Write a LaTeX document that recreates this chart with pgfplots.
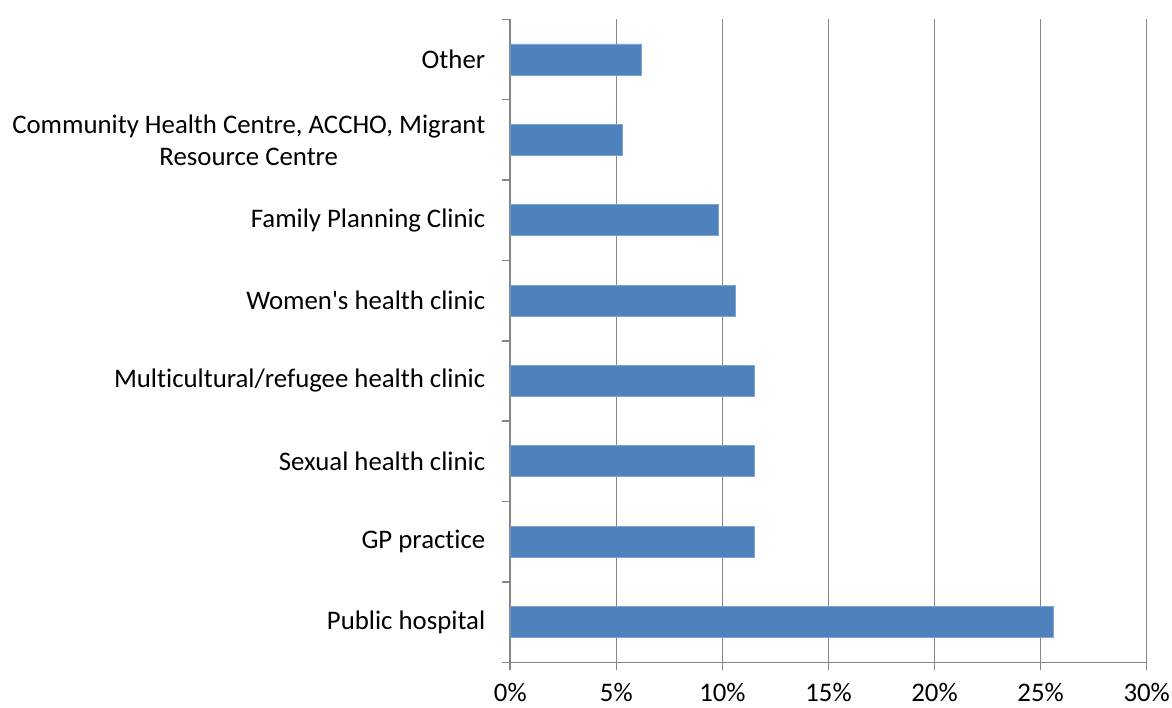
\documentclass[border=0pt]{standalone}
\usepackage{pgfplots}
\pgfplotsset{compat=1.18}
\usepackage{fontspec}
\setmainfont{Carlito}[Ligatures={NoCommon}]
\definecolor{barblue}{HTML}{4F81BD}
\definecolor{baredge}{HTML}{7FA3D3}
\definecolor{gridgray}{HTML}{868686}
\begin{document}
\begin{tikzpicture}
\begin{axis}[
  at={(0,0)}, anchor=south west,
  scale only axis,
  width=318.2pt, height=321.5pt,
  xmin=0, xmax=30,
  ymin=-0.5, ymax=7.5,
  axis lines*=left,
  axis line style={gridgray, line width=0.8pt, -},
  xtick={0,5,10,15,20,25,30},
  xticklabels={0\%,5\%,10\%,15\%,20\%,25\%,30\%},
  xmajorgrids,
  grid style={gridgray, line width=0.8pt},
  tick align=outside,
  major tick length=4pt,
  every tick/.style={gridgray, line width=0.8pt},
  ytick={-0.5,0.5,1.5,2.5,3.5,4.5,5.5,6.5,7.5},
  yticklabels={},
  extra y ticks={0,1,2,3,4,5,6,7},
  extra y tick labels={Public hospital, GP practice, Sexual health clinic, Multicultural/refugee health clinic, Women\textquotesingle s health clinic, Family Planning Clinic, {Community Health Centre, ACCHO, Migrant\\Resource Centre}, Other},
  extra y tick style={major tick length=0pt, yticklabel style={align=center, font=\fontsize{13.4}{16}\selectfont, xshift=-9pt}},
  xticklabel style={font=\fontsize{13.4}{16}\selectfont, yshift=-3pt},
  xbar, bar width=15.5pt,
]
\addplot[fill=barblue, draw=baredge, line width=0.4pt] coordinates {
  (25.6,0) (11.5,1) (11.5,2) (11.5,3) (10.6,4) (9.8,5) (5.3,6) (6.2,7)
};
\end{axis}
\pgfresetboundingbox
\useasboundingbox (-255.15pt,-22.35pt) rectangle (330.85pt,331.15pt);
\end{tikzpicture}
\end{document}
